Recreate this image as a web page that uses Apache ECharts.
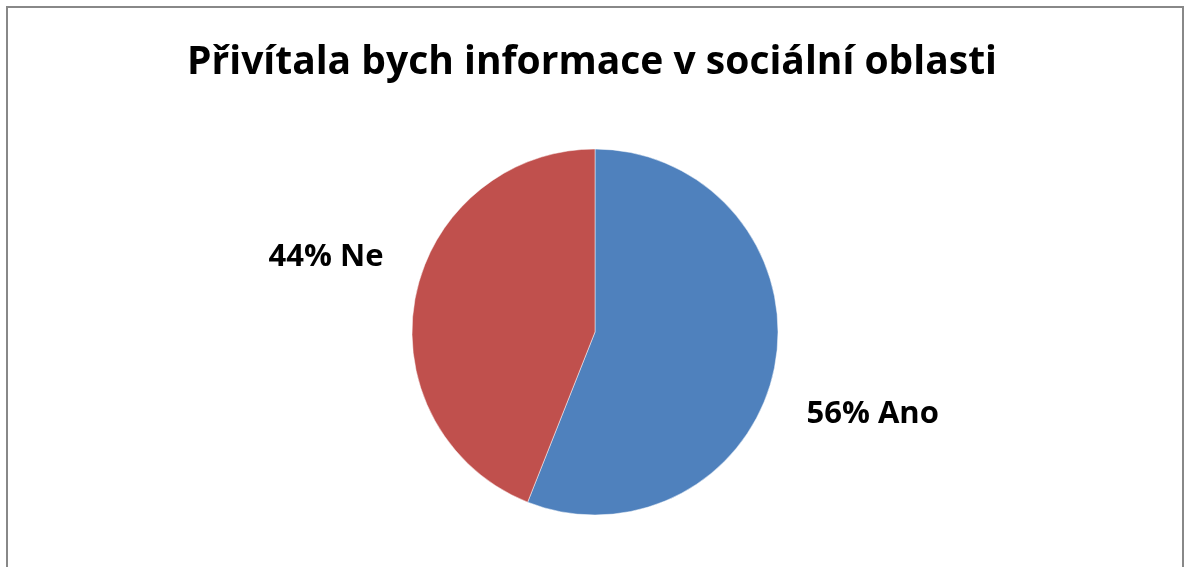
<!DOCTYPE html>
<html>
<head>
<meta charset="utf-8">
<script src="https://cdn.jsdelivr.net/npm/echarts@6/dist/echarts.min.js"></script>
<style>
  html, body { margin: 0; padding: 0; background: #fff; }
  #chart { width: 1184px; height: 567px; }
</style>
</head>
<body>
<div id="chart"></div>
<script>
// Survey answers and their shares (%)
const categories = ['Ano', 'Ne'];
const shares = [56, 44];
const colors = ['#4F81BD', '#C0504D'];
const titleText = 'Přivítala bych informace v sociální oblasti';

const FONT = '"Open Sans", "DejaVu Sans", sans-serif';

const chart = echarts.init(document.getElementById('chart'), null, { renderer: 'canvas' });

chart.setOption({
  backgroundColor: '#fff',
  animation: false,
  title: {
    text: titleText,
    left: 'center',
    top: 38,
    textStyle: { fontFamily: FONT, fontWeight: 'bold', fontSize: 39, color: '#000' }
  },
  graphic: [{
    type: 'rect',
    shape: { x: 7, y: 7, width: 1176, height: 600 },
    style: { fill: 'none', stroke: '#888', lineWidth: 2 },
    silent: true
  }],
  series: [{
    type: 'pie',
    center: [595, 332],
    radius: 183,
    startAngle: 90,
    clockwise: true,
    data: categories.map((name, i) => ({
      name,
      value: shares[i],
      itemStyle: { color: colors[i] }
    })),
    itemStyle: { borderColor: 'rgba(255,255,255,0.6)', borderWidth: 0.8 },
    label: {
      show: true,
      position: 'outside',
      formatter: p => p.value + '% ' + p.name,
      fontFamily: FONT,
      fontWeight: 'bold',
      fontSize: 31,
      color: '#000'
    },
    labelLine: { show: false, length: 15, length2: 12 },
    labelLayout: p => ({ dy: p.dataIndex === 0 ? 45 : -38 })
  }]
});
</script>
</body>
</html>
